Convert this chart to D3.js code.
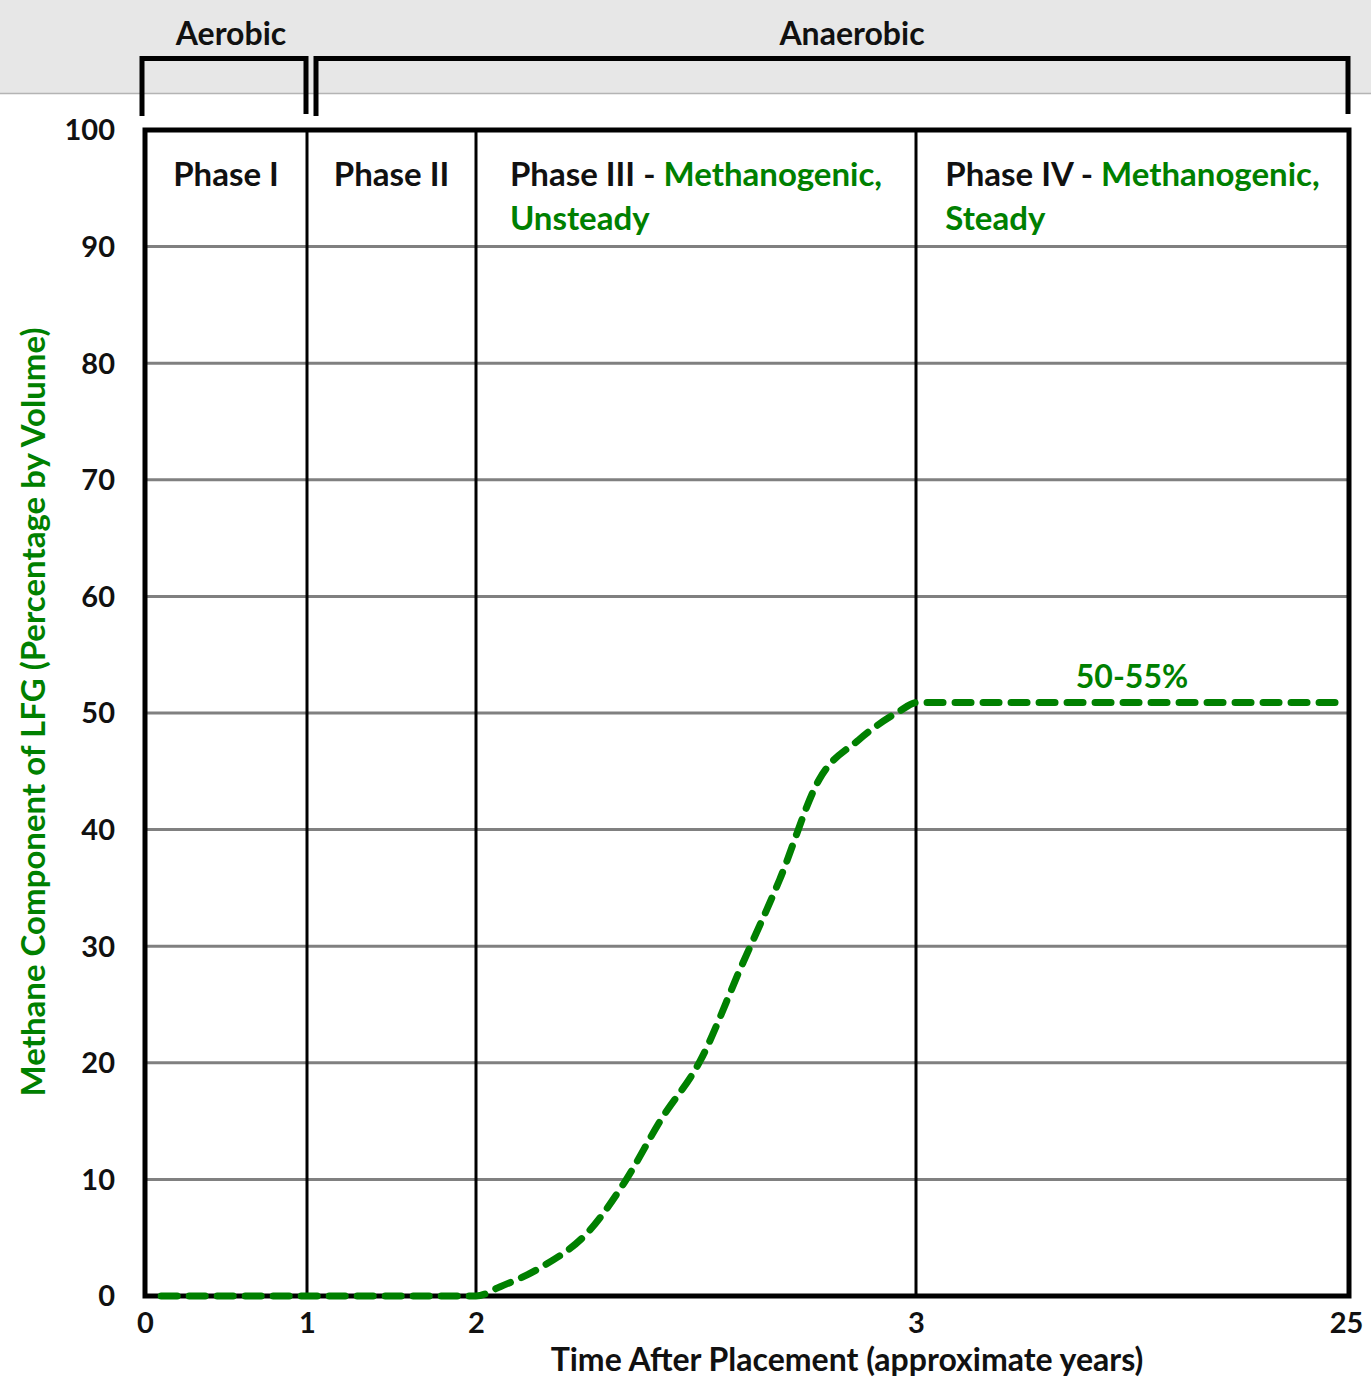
<!DOCTYPE html>
<html>
<head>
<meta charset="utf-8">
<script src="https://cdn.jsdelivr.net/npm/d3@7"></script>
<style>
  body { margin: 0; background: #fff; }
  svg text { font-family: Lato, "Open Sans", sans-serif; font-weight: 700; }
</style>
</head>
<body>
<svg width="1371" height="1378"></svg>
<script>
const xTicks = [0, 1, 2, 3, 25];
const yTicks = [0, 10, 20, 30, 40, 50, 60, 70, 80, 90, 100];
const phaseBounds = [1, 2, 3];
const phaseLabels = [
  { from: 0, to: 1, lines: [[["Phase I", "#111"]]] },
  { from: 1, to: 2, lines: [[["Phase II", "#111"]]] },
  { from: 2, to: 3, lines: [[["Phase III - ", "#111"], ["Methanogenic,", "#008000"]], [["Unsteady", "#008000"]]] },
  { from: 3, to: 25, lines: [[["Phase IV - ", "#111"], ["Methanogenic,", "#008000"]], [["Steady", "#008000"]]] }
];
const brackets = [
  { name: "Aerobic", from: 0, to: 1 },
  { name: "Anaerobic", from: 1, to: 25 }
];
// methane curve
const methaneYears = [0.1, 1, 2, 2.055, 2.145, 2.26, 2.34, 2.42, 2.51, 2.6, 2.69, 2.78, 2.87, 2.96, 3.05, 5, 10, 15, 20, 24.3];
const methanePct = [0, 0, 0, 0.8, 2.4, 5.7, 9.9, 15.1, 20.2, 28, 35.7, 44.3, 47.7, 50.1, 50.9, 50.9, 50.9, 50.9, 50.9, 50.9];

const svg = d3.select("svg");
const green = "#008000";

const x = d3.scaleLinear().domain(xTicks).range([145, 307, 476, 916, 1349]);
const y = d3.scaleLinear().domain([0, 100]).range([1296, 130]);

// top band
svg.append("rect").attr("x", 0).attr("y", 0).attr("width", 1371).attr("height", 93).attr("fill", "#e7e7e7");
svg.append("line").attr("x1", 0).attr("x2", 1371).attr("y1", 93.5).attr("y2", 93.5)
  .attr("stroke", "#b4b4b4").attr("stroke-width", 1.5);

// brackets
brackets.forEach((b, i) => {
  const x0 = x(b.from) + (i === 0 ? -3 : 9);
  const x1 = x(b.to) - 1;
  svg.append("path")
    .attr("d", `M${x0},116V58.5H${x1}V114`)
    .attr("fill", "none").attr("stroke", "#000").attr("stroke-width", 5);
  svg.append("text")
    .attr("x", (x0 + x1) / 2 + (i === 0 ? 7 : 20)).attr("y", 45)
    .attr("text-anchor", "middle").attr("font-size", 32).attr("fill", "#111")
    .text(b.name);
});

// gridlines
svg.append("g")
  .selectAll("line").data(yTicks.slice(1, -1)).join("line")
  .attr("x1", x(0)).attr("x2", x(25))
  .attr("y1", (d) => y(d)).attr("y2", (d) => y(d))
  .attr("stroke", "#808080").attr("stroke-width", 3);

// phase boundaries
svg.append("g")
  .selectAll("line").data(phaseBounds).join("line")
  .attr("x1", (d) => x(d)).attr("x2", (d) => x(d))
  .attr("y1", y(100)).attr("y2", y(0))
  .attr("stroke", "#000").attr("stroke-width", 3);

// frame
svg.append("rect")
  .attr("x", x(0)).attr("y", y(100))
  .attr("width", x(25) - x(0)).attr("height", y(0) - y(100))
  .attr("fill", "none").attr("stroke", "#000").attr("stroke-width", 5);

// phase labels: first line centred in the cell, second line aligned left with it
phaseLabels.forEach((p) => {
  const t = svg.append("text").attr("font-size", 33);
  const rows = p.lines.map((line, li) => {
    const tspans = line.map((seg, si) => {
      const ts = t.append("tspan").attr("fill", seg[1]).text(seg[0]);
      if (si === 0) ts.attr("y", 186 + li * 44);
      return ts;
    });
    return tspans;
  });
  const w = d3.sum(rows[0], (ts) => ts.node().getComputedTextLength());
  const left = (x(p.from) + x(p.to)) / 2 - w / 2;
  rows.forEach((r) => r[0].attr("x", left));
});

// axes
const yAxis = svg.append("g")
  .attr("transform", `translate(${x(0)},0)`)
  .call(d3.axisLeft(y).tickValues(yTicks).tickSize(0).tickPadding(30));
const xAxis = svg.append("g")
  .attr("transform", `translate(0,${y(0)})`)
  .call(d3.axisBottom(x).tickValues(xTicks).tickSize(0).tickPadding(16));
[yAxis, xAxis].forEach((a) => {
  a.select(".domain").remove();
  a.selectAll("text").attr("font-size", 29).attr("fill", "#111")
    .style("font-family", "Lato, sans-serif").style("font-weight", 700);
});
yAxis.selectAll("text").attr("dy", "0.34em");
xAxis.selectAll("text").filter((d) => d === 25).attr("dx", "-0.1em");

// axis titles
svg.append("text")
  .attr("x", 847).attr("y", 1371).attr("text-anchor", "middle")
  .attr("font-size", 32).attr("fill", "#111")
  .text("Time After Placement (approximate years)");
svg.append("text")
  .attr("transform", `translate(45,712) rotate(-90)`)
  .attr("text-anchor", "middle").attr("font-size", 33).attr("fill", green)
  .text("Methane Component of LFG (Percentage by Volume)");

// methane curve
const line = d3.line()
  .x((d, i) => x(methaneYears[i]))
  .y((d) => y(d))
  .curve(d3.curveMonotoneX);
svg.append("path")
  .datum(methanePct)
  .attr("d", line)
  .attr("fill", "none").attr("stroke", green)
  .attr("stroke-width", 7).attr("stroke-linecap", "round")
  .attr("stroke-dasharray", "16,12");

svg.append("text")
  .attr("x", 1132).attr("y", 688).attr("text-anchor", "middle")
  .attr("font-size", 32).attr("fill", green)
  .text("50-55%");
</script>
</body>
</html>
